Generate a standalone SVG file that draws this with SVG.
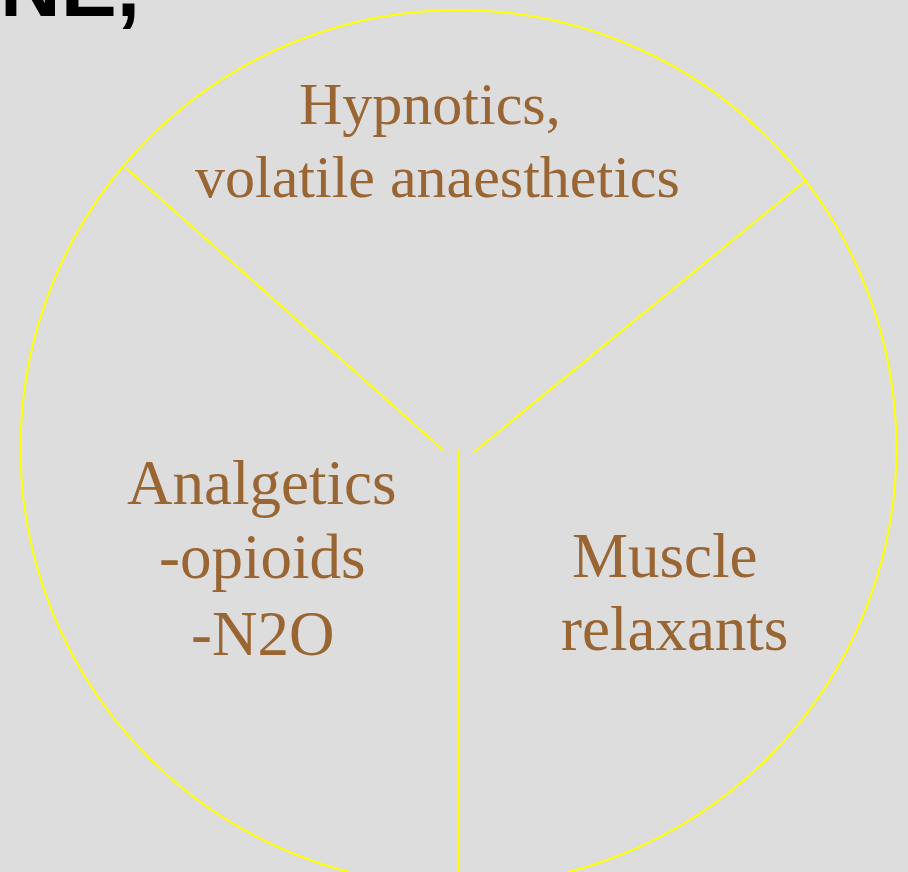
<svg xmlns="http://www.w3.org/2000/svg" width="908" height="872" viewBox="0 0 908 872">
  <style>
    .lbl { font-family: "Liberation Serif", "Times New Roman", serif; fill: #996633; }
    .ln { stroke: #FFFF00; stroke-width: 2; fill: none; }
  </style>
  <rect x="0" y="0" width="908" height="872" fill="#DDDDDD"/>
  <text x="0" y="16" font-family="Liberation Sans, Arial, sans-serif" font-weight="bold" font-size="84" fill="#000000">NE,</text>
  <g id="connectors">
    <circle class="ln" cx="458.5" cy="448" r="438"/>
    <line class="ln" x1="126" y1="168" x2="443" y2="450"/>
    <line class="ln" x1="805" y1="181" x2="474" y2="452"/>
    <line class="ln" x1="458.5" y1="450" x2="458.5" y2="872"/>
  </g>
  <g id="hypnotics">
    <text class="lbl" font-size="60" x="299" y="124">Hypnotics,</text>
    <text class="lbl" font-size="60" x="195" y="197">volatile anaesthetics</text>
  </g>
  <g id="analgetics">
    <text class="lbl" font-size="63" x="127" y="504">Analgetics</text>
    <text class="lbl" font-size="63" x="159" y="578">-opioids</text>
    <text class="lbl" font-size="63" x="191" y="655">-N2O</text>
  </g>
  <g id="muscle">
    <text class="lbl" font-size="63" x="572" y="577">Muscle</text>
    <text class="lbl" font-size="63" x="561" y="650">relaxants</text>
  </g>
</svg>
